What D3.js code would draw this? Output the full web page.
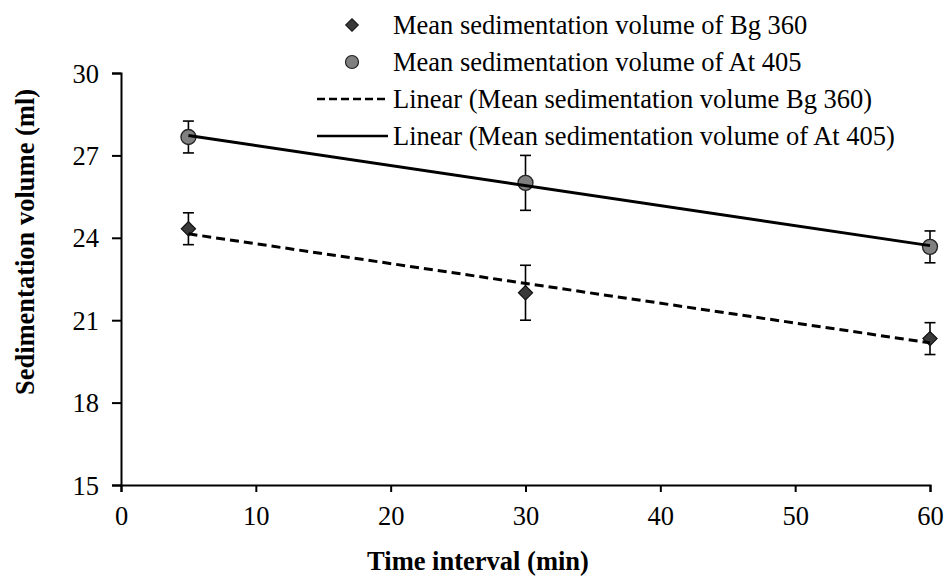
<!DOCTYPE html>
<html>
<head>
<meta charset="utf-8">
<script src="https://cdn.jsdelivr.net/npm/d3@7"></script>
<style>
  body { margin: 0; background: #fff; }
  text { font-family: "Liberation Serif", "Times New Roman", serif; fill: #000; }
</style>
</head>
<body>
<div id="chart"></div>
<script>
// data
var times = [5, 30, 60];
var bgMeans = [24.33, 22.0, 20.33];
var bgErrors = [0.58, 1.0, 0.58];
var atMeans = [27.67, 26.0, 23.67];
var atErrors = [0.58, 1.0, 0.58];
var xTicks = [0, 10, 20, 30, 40, 50, 60];
var yTicks = [15, 18, 21, 24, 27, 30];
var legendLabels = [
  "Mean sedimentation volume of Bg 360",
  "Mean sedimentation volume of At 405",
  "Linear (Mean sedimentation volume Bg 360)",
  "Linear (Mean sedimentation volume of At 405)"
];

var W = 944, H = 576;
var margin = {top: 73, right: 14, bottom: 91, left: 121};
var width = W - margin.left - margin.right,
    height = H - margin.top - margin.bottom;
var serif = "Liberation Serif";
var fontSize = "26.5px";

var svg = d3.select("#chart").append("svg")
  .attr("width", W).attr("height", H);
var g = svg.append("g")
  .attr("transform", "translate(" + margin.left + "," + margin.top + ")");

var x = d3.scaleLinear().domain([0, 60]).range([0, width]);
var y = d3.scaleLinear().domain([15, 30]).range([height, 0]);

// least squares trend line
function fit(xs, ys) {
  var mx = d3.mean(xs), my = d3.mean(ys);
  var sxy = d3.sum(xs, function(v, i) { return (v - mx) * (ys[i] - my); });
  var sxx = d3.sum(xs, function(v) { return (v - mx) * (v - mx); });
  var b = sxy / sxx;
  return function(v) { return my + b * (v - mx); };
}

var xAxis = g.append("g")
  .attr("transform", "translate(0," + height + ")")
  .call(d3.axisBottom(x).tickValues(xTicks).tickSize(7).tickPadding(14));
var yAxis = g.append("g")
  .call(d3.axisLeft(y).tickValues(yTicks).tickSize(9).tickPadding(13));
[xAxis, yAxis].forEach(function(a) {
  a.attr("font-family", serif).attr("font-size", 26);
  a.select(".domain").attr("stroke", "#000").attr("stroke-width", 2);
  a.selectAll(".tick line").attr("stroke", "#000").attr("stroke-width", 2);
  a.selectAll(".tick text").attr("fill", "#000")
    .style("font-family", serif).style("font-size", fontSize);
});
yAxis.selectAll(".tick text").attr("dy", "0.34em");

svg.append("text")
  .attr("x", 478).attr("y", 570)
  .attr("text-anchor", "middle")
  .style("font-family", serif)
  .style("font-size", fontSize).style("font-weight", "bold")
  .text("Time interval (min)");
svg.append("text")
  .attr("transform", "translate(34,242) rotate(-90)")
  .attr("text-anchor", "middle")
  .style("font-family", serif)
  .style("font-size", fontSize).style("font-weight", "bold")
  .text("Sedimentation volume (ml)");

var series = [
  {means: bgMeans, errs: bgErrors, shape: "diamond", fill: "#3a3a3a", dash: "9,5"},
  {means: atMeans, errs: atErrors, shape: "circle", fill: "#808080", dash: null}
];

series.forEach(function(s) {
  var pts = times.map(function(t, i) { return {t: t, m: s.means[i], e: s.errs[i]}; });
  var eb = g.append("g").selectAll("g").data(pts).enter().append("g")
    .attr("stroke", "#000").attr("stroke-width", 1.6);
  eb.append("line")
    .attr("x1", function(d) { return x(d.t); }).attr("x2", function(d) { return x(d.t); })
    .attr("y1", function(d) { return y(d.m - d.e); }).attr("y2", function(d) { return y(d.m + d.e); });
  eb.append("line")
    .attr("x1", function(d) { return x(d.t) - 5.5; }).attr("x2", function(d) { return x(d.t) + 5.5; })
    .attr("y1", function(d) { return y(d.m + d.e); }).attr("y2", function(d) { return y(d.m + d.e); });
  eb.append("line")
    .attr("x1", function(d) { return x(d.t) - 5.5; }).attr("x2", function(d) { return x(d.t) + 5.5; })
    .attr("y1", function(d) { return y(d.m - d.e); }).attr("y2", function(d) { return y(d.m - d.e); });

  if (s.shape === "circle") {
    g.append("g").selectAll("circle").data(pts).enter().append("circle")
      .attr("cx", function(d) { return x(d.t); })
      .attr("cy", function(d) { return y(d.m); })
      .attr("r", 7.5)
      .attr("fill", s.fill).attr("stroke", "#222").attr("stroke-width", 1.3);
  } else {
    g.append("g").selectAll("path").data(pts).enter().append("path")
      .attr("d", d3.symbol().type(d3.symbolSquare).size(100))
      .attr("transform", function(d) { return "translate(" + x(d.t) + "," + y(d.m) + ") rotate(45)"; })
      .attr("fill", s.fill).attr("stroke", "#111").attr("stroke-width", 1.2);
  }

  var f = fit(times, s.means);
  var t0 = d3.min(times), t1 = d3.max(times);
  g.append("line")
    .attr("x1", x(t0)).attr("y1", y(f(t0)))
    .attr("x2", x(t1)).attr("y2", y(f(t1)))
    .attr("stroke", "#000").attr("stroke-width", 3)
    .attr("stroke-dasharray", s.dash);
});

// legend
var leg = svg.append("g");
var rowY = [25, 62, 99, 136];
legendLabels.forEach(function(lab, i) {
  var ry = rowY[i];
  leg.append("text")
    .attr("x", 393).attr("y", ry).attr("dy", "0.33em")
    .style("font-family", serif)
    .style("font-size", fontSize).text(lab);
  if (i === 0) {
    leg.append("path").attr("d", d3.symbol().type(d3.symbolSquare).size(80))
      .attr("transform", "translate(352," + ry + ") rotate(45)")
      .attr("fill", "#3a3a3a").attr("stroke", "#111").attr("stroke-width", 1);
  } else if (i === 1) {
    leg.append("circle").attr("cx", 352).attr("cy", ry).attr("r", 6.5)
      .attr("fill", "#808080").attr("stroke", "#222").attr("stroke-width", 1.2);
  } else {
    leg.append("line").attr("x1", 317).attr("x2", 388).attr("y1", ry).attr("y2", ry)
      .attr("stroke", "#000").attr("stroke-width", 2.5)
      .attr("stroke-dasharray", i === 2 ? "8,4" : null);
  }
});
</script>
</body>
</html>
